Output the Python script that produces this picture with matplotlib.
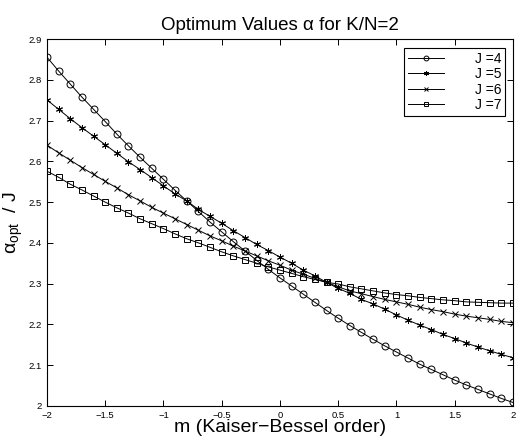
import numpy as np
import matplotlib
matplotlib.use("Agg")
import matplotlib.pyplot as plt

plt.rcParams['font.family'] = ['Liberation Sans', 'DejaVu Sans']
plt.rcParams['mathtext.fontset'] = 'custom'
plt.rcParams['mathtext.rm'] = 'Liberation Sans'

# Kaiser-Bessel order m, sampled every 0.1
m = np.round(np.arange(-20, 21) / 10, 1)

alpha_j4 = [2.856, 2.822, 2.790, 2.758, 2.728, 2.698, 2.667, 2.638, 2.610, 2.583,
            2.556, 2.529, 2.503, 2.477, 2.451, 2.427, 2.403, 2.380, 2.357, 2.335,
            2.314, 2.294, 2.274, 2.254, 2.234, 2.215, 2.197, 2.180, 2.163, 2.147,
            2.132, 2.117, 2.102, 2.089, 2.076, 2.063, 2.051, 2.040, 2.029, 2.018,
            2.008]
alpha_j5 = [2.751, 2.728, 2.705, 2.683, 2.662, 2.641, 2.620, 2.599, 2.580, 2.560,
            2.540, 2.520, 2.503, 2.482, 2.465, 2.448, 2.430, 2.413, 2.396, 2.381,
            2.365, 2.350, 2.333, 2.319, 2.303, 2.288, 2.276, 2.261, 2.250, 2.237,
            2.223, 2.210, 2.198, 2.187, 2.175, 2.165, 2.154, 2.144, 2.135, 2.126,
            2.118]
alpha_j6 = [2.640, 2.621, 2.603, 2.585, 2.568, 2.551, 2.535, 2.518, 2.503, 2.487,
            2.473, 2.459, 2.445, 2.431, 2.417, 2.405, 2.392, 2.380, 2.368, 2.356,
            2.345, 2.333, 2.323, 2.313, 2.303, 2.292, 2.282, 2.275, 2.268, 2.261,
            2.255, 2.249, 2.242, 2.236, 2.231, 2.225, 2.220, 2.216, 2.212, 2.207,
            2.204]
alpha_j7 = [2.576, 2.561, 2.544, 2.530, 2.515, 2.500, 2.486, 2.473, 2.459, 2.447,
            2.435, 2.422, 2.410, 2.400, 2.389, 2.378, 2.368, 2.359, 2.350, 2.341,
            2.333, 2.325, 2.317, 2.310, 2.303, 2.299, 2.292, 2.287, 2.282, 2.277,
            2.273, 2.270, 2.266, 2.263, 2.260, 2.258, 2.255, 2.254, 2.253, 2.252,
            2.252]

series = [(alpha_j4, 'o', 'J =4'), (alpha_j5, (6, 2, 0), 'J =5'),
          (alpha_j6, 'x', 'J =6'), (alpha_j7, 's', 'J =7')]

fig = plt.figure(figsize=(5.16, 4.41), dpi=100)
ax = fig.add_axes([0.091, 0.080, 0.903, 0.831])

for vals, mk, lab in series:
    ms = 4.5 if mk == 's' else 5
    ax.plot(m, vals, color='black', lw=0.7, marker=mk, ms=ms,
            mfc='none', mec='black', mew=0.7, label=lab)

ax.set_xlim(-2, 2)
ax.set_ylim(2, 2.9)
ax.set_xticks(np.arange(-2, 2.01, 0.5))
ax.set_xticklabels(['\u22122', '\u22121.5', '\u22121', '\u22120.5', '0',
                    '0.5', '1', '1.5', '2'])
ax.set_yticks(np.round(np.arange(2, 2.91, 0.1), 1))
ax.set_yticklabels(['2', '2.1', '2.2', '2.3', '2.4', '2.5', '2.6', '2.7', '2.8', '2.9'])
ax.tick_params(direction='in', top=True, right=True, labelsize=6.8,
               length=4, width=0.7, pad=4)
for s in ax.spines.values():
    s.set_linewidth(0.8)

ax.set_title('Optimum Values \u03b1 for K/N=2', fontsize=13.5, pad=7)
ax.set_xlabel('m (Kaiser\u2212Bessel order)', fontsize=14, labelpad=-1)
ax.set_ylabel('\u03b1$_{\\mathrm{opt}}$  / J', fontsize=14)
ax.yaxis.set_label_coords(-0.047, 0.5)

leg = ax.legend(loc='upper right', bbox_to_anchor=(0.997, 0.994), fontsize=10,
                frameon=True, fancybox=False, edgecolor='black', framealpha=1,
                handlelength=2.6, handletextpad=2.2, labelspacing=0.1,
                borderpad=0.25, markerscale=0.7)
leg.get_frame().set_linewidth(0.8)

fig.savefig('out.png', dpi=100)
